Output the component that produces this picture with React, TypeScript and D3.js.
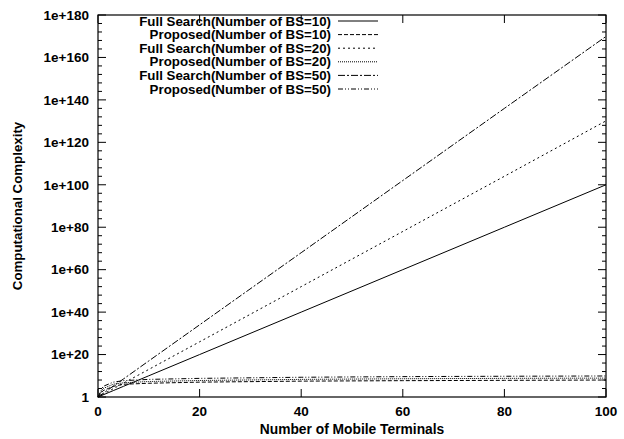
import React from "react";
import * as d3 from "d3";

// number of mobile terminals sampled
const terminals = [0, 1, 2, 3, 5, 10, 20, 40, 60, 80, 100];

// values (log scale)
const fullBS10 = [1, 1e1, 1e2, 1e3, 1e5, 1e10, 1e20, 1e40, 1e60, 1e80, 1e100];
const fullBS20 = [1, 2e1, 4e2, 8e3, 3.2e6, 1e13, 1e26, 1e52, 1e78, 1e104, 1.3e130];
const fullBS50 = [1, 5e1, 2.5e3, 1.25e5, 3e8, 1e17, 1e34, 1e68, 1e102, 1e136, 8e169];
const propBS10 = [1, 1e3, 1e4, 1e5, 1e6, 3e6, 1e7, 3e7, 5e7, 7e7, 1e8];
const propBS20 = [1, 1e4, 1e5, 1e6, 5e6, 2e7, 6e7, 2e8, 4e8, 6e8, 8e8];
const propBS50 = [1, 1e5, 1e6, 1e7, 5e7, 2e8, 6e8, 2e9, 4e9, 6e9, 8e9];

const seriesNames = [
  "Full Search(Number of BS=10)",
  "Proposed(Number of BS=10)",
  "Full Search(Number of BS=20)",
  "Proposed(Number of BS=20)",
  "Full Search(Number of BS=50)",
  "Proposed(Number of BS=50)",
];
const seriesValues = [fullBS10, propBS10, fullBS20, propBS20, fullBS50, propBS50];
const dashes = ["", "4,2", "2,3", "1,1", "7,2,2,2", "5,2,1,2,1,2"];

const xTicks = [0, 20, 40, 60, 80, 100];
const yExps = [0, 20, 40, 60, 80, 100, 120, 140, 160, 180];

export default function App() {
  const W = 624, H = 439;
  const left = 98, right = 606, top = 15, bottom = 397;

  const x = d3.scaleLinear().domain([0, 100]).range([left, right]);
  const y = d3.scaleLog().domain([1, 1e180]).range([bottom, top]);
  const ly = (e: number) => y(Math.pow(10, e));

  const line = d3
    .line<[number, number]>()
    .x((d) => x(d[0]))
    .y((d) => y(d[1]));

  const font = "'Liberation Sans', Arial, sans-serif";
  const minorExps = d3.range(0, 181, 4).filter((e) => e % 20 !== 0);

  return (
    <svg width={W} height={H} style={{ position: "absolute", left: 0, top: 0, background: "#fff" }}>
      <g fontFamily={font} fontWeight="bold" fontSize={13.5} fill="#000">
        {/* y ticks */}
        {yExps.map((e) => (
          <g key={"y" + e}>
            <line x1={left} x2={left + 8} y1={ly(e)} y2={ly(e)} stroke="#000" />
            <line x1={right} x2={right - 8} y1={ly(e)} y2={ly(e)} stroke="#000" />
            <text x={left - 9} y={ly(e)} dy="0.35em" textAnchor="end">
              {e === 0 ? "1" : `1e+${e}`}
            </text>
          </g>
        ))}
        {minorExps.map((e) => (
          <g key={"m" + e}>
            <line x1={left} x2={left + 4} y1={ly(e)} y2={ly(e)} stroke="#000" />
            <line x1={right} x2={right - 4} y1={ly(e)} y2={ly(e)} stroke="#000" />
          </g>
        ))}
        {/* x ticks */}
        {xTicks.map((t) => (
          <g key={"x" + t}>
            <line x1={x(t)} x2={x(t)} y1={bottom} y2={bottom - 8} stroke="#000" />
            <line x1={x(t)} x2={x(t)} y1={top} y2={top + 8} stroke="#000" />
            <text x={x(t)} y={416} textAnchor="middle">
              {t}
            </text>
          </g>
        ))}
        <text x={(left + right) / 2} y={434} textAnchor="middle" fontSize={13.8}>
          Number of Mobile Terminals
        </text>
        <text
          transform={`translate(22,${(top + bottom) / 2}) rotate(-90)`}
          textAnchor="middle"
          fontSize={13.3}
        >
          Computational Complexity
        </text>

        {/* series */}
        {seriesValues.map((vals, i) => (
          <path
            key={"s" + i}
            d={line(terminals.map((t, j) => [t, vals[j]] as [number, number])) || ""}
            fill="none"
            stroke="#000"
            strokeWidth={1}
            strokeDasharray={dashes[i]}
          />
        ))}

        {/* legend */}
        {seriesNames.map((name, i) => (
          <g key={"l" + i}>
            <text x={331} y={21 + i * 13.6} dy="0.35em" textAnchor="end" fontSize={13.3}>
              {name}
            </text>
            <line
              x1={338}
              x2={378}
              y1={21 + i * 13.6}
              y2={21 + i * 13.6}
              stroke="#000"
              strokeDasharray={dashes[i]}
            />
          </g>
        ))}

        <rect x={left} y={top} width={right - left} height={bottom - top} fill="none" stroke="#000" strokeWidth={1.2} />
      </g>
    </svg>
  );
}
